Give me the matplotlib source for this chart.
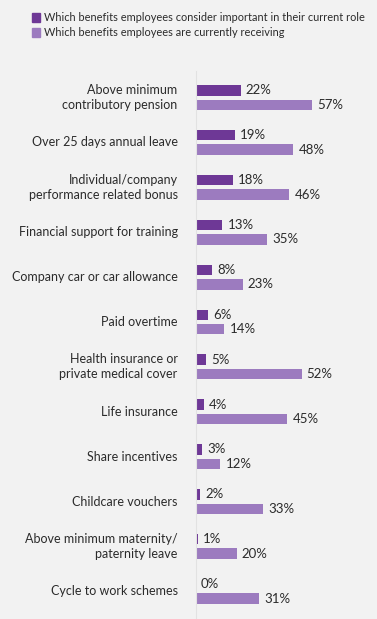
import matplotlib
matplotlib.use('Agg')
import matplotlib.pyplot as plt
import numpy as np

beneficios = ['Above minimum\ncontributory pension', 'Over 25 days annual leave',
              'Individual/company\nperformance related bonus', 'Financial support for training',
              'Company car or car allowance', 'Paid overtime',
              'Health insurance or\nprivate medical cover', 'Life insurance',
              'Share incentives', 'Childcare vouchers',
              'Above minimum maternity/\npaternity leave', 'Cycle to work schemes']
importante = [22, 19, 18, 13, 8, 6, 5, 4, 3, 2, 1, 0]
recebendo = [57, 48, 46, 35, 23, 14, 52, 45, 12, 33, 20, 31]
legenda = ['Which benefits employees consider important in their current role',
           'Which benefits employees are currently receiving']

plt.rcParams['font.family'] = ['Lato', 'DejaVu Sans']
cor_escura = '#6e3896'
cor_clara = '#9c7bbf'
fundo = '#f2f2f2'
texto = '#2b2b2b'

fig = plt.figure(figsize=(3.77, 6.19), dpi=100, facecolor=fundo)
ax = fig.add_axes([196/377, 1-618.3/619, 181/377, (618.3-70.6)/619])
ax.set_facecolor(fundo)

y = np.arange(len(beneficios))
h = 0.234
d = 0.161
ax.barh(y - d, importante, height=h, color=cor_escura)
ax.barh(y + d, recebendo, height=h, color=cor_clara)
for i in range(len(beneficios)):
    ax.text(importante[i] + 2.5, y[i] - d, str(importante[i]) + '%', va='center', ha='left',
            fontsize=9.5, color=texto)
    ax.text(recebendo[i] + 2.5, y[i] + d, str(recebendo[i]) + '%', va='center', ha='left',
            fontsize=9.5, color=texto)
    ax.text(-9, y[i], beneficios[i], va='center', ha='right', fontsize=9, color=texto,
            linespacing=1.3)

ax.set_xlim(0, 181/2.03)
ax.set_ylim(11.6, -0.6)
ax.set_xticks([])
ax.set_yticks([])
for s in ['top', 'right', 'bottom']:
    ax.spines[s].set_visible(False)
ax.spines['left'].set_color('#e2e2e2')
ax.spines['left'].set_linewidth(0.8)

# legenda
fig.patches.append(plt.Rectangle((32/377, 1-22/619), 8/377, 9/619, transform=fig.transFigure,
                                 color=cor_escura))
fig.patches.append(plt.Rectangle((32/377, 1-37/619), 8/377, 9/619, transform=fig.transFigure,
                                 color=cor_clara))
fig.text(44/377, 1-17.5/619, legenda[0], va='center', ha='left', fontsize=7.9, color=texto)
fig.text(44/377, 1-32.5/619, legenda[1], va='center', ha='left', fontsize=7.9, color=texto)

fig.savefig('out.png', dpi=100, facecolor=fundo)
